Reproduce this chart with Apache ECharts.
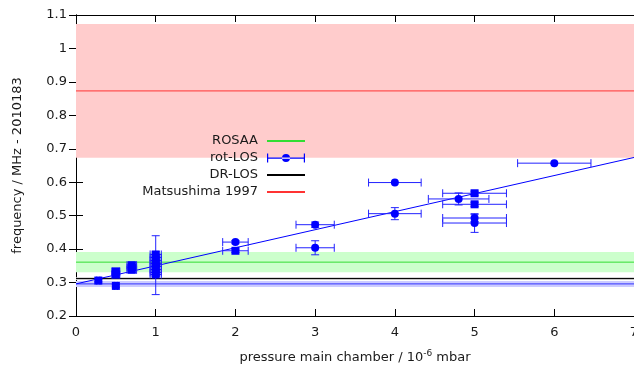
<!DOCTYPE html>
<html>
<head>
<meta charset="utf-8">
<script src="https://cdn.jsdelivr.net/npm/echarts@6/dist/echarts.min.js"></script>
<style>
html, body { margin: 0; padding: 0; background: #fff; }
#chart { width: 634px; height: 366px; }
</style>
</head>
<body>
<div id="chart"></div>
<script>
// rot-LOS measurements: [pressure, frequency, pressure error, frequency error]
const circlePoints = [
	[1, 0.352, 0, 0.088],
	[2, 0.421, 0.16, 0.005],
	[3, 0.473, 0.24, 0.008],
	[3, 0.404, 0.24, 0.021],
	[4, 0.599, 0.33, 0],
	[4, 0.506, 0.33, 0.018],
	[4.8, 0.55, 0.38, 0.018],
	[5, 0.493, 0.4, 0.01],
	[5, 0.478, 0.4, 0.028],
	[6, 0.657, 0.46, 0]
];
const squarePoints = [
	[0.28, 0.306, 0.02, 0.004],
	[0.5, 0.333, 0.05, 0.01],
	[0.5, 0.324, 0.05, 0.01],
	[0.5, 0.29, 0.02, 0.004],
	[0.7, 0.352, 0.06, 0.008],
	[0.7, 0.345, 0.06, 0.008],
	[0.7, 0.338, 0.06, 0.008],
	[1, 0.384, 0.07, 0.008],
	[1, 0.375, 0.07, 0.008],
	[1, 0.366, 0.07, 0.008],
	[1, 0.357, 0.07, 0.008],
	[1, 0.348, 0.07, 0.008],
	[1, 0.339, 0.07, 0.008],
	[1, 0.33, 0.07, 0.008],
	[1, 0.324, 0.07, 0.006],
	[2, 0.395, 0.16, 0.005],
	[5, 0.567, 0.4, 0.006],
	[5, 0.534, 0.4, 0.006]
];
// linear fit through rot-LOS
const fitLine = [[0, 0.296], [7, 0.674]];

// reference values with their uncertainty band
const refNames = ["ROSAA", "DR-LOS", "Matsushima 1997", "fit-offset"];
const refValues = [0.361, 0.312, 0.873, 0.296];
const refErrors = [0.03, 0.004, 0.2, 0.009];
const refColors = ["#33dd33", "#000000", "#ff3333", "#3333ff"];
const refBands = ["#ccffcc", "#cccccc", "#ffcccc", "#ccccff"];

const xTicks = [0, 7, 1];
const yTicks = [0.2, 1.1, 0.1];

const font = "DejaVu Sans";
const textColor = "#1a1a1a";
const blue = "#0000ff";
const lineIcon = "path://M0,0h38v2h-38z";

const refSeries = refNames.map((name, i) => ({
	name: name,
	type: "line",
	symbol: "none",
	silent: true,
	z: 1,
	data: [[xTicks[0], refValues[i]], [xTicks[1], refValues[i]]],
	lineStyle: { color: refColors[i], width: 1 },
	itemStyle: { color: refColors[i] },
	markArea: {
		silent: true,
		itemStyle: { color: refBands[i] },
		data: [[{ yAxis: refValues[i] - refErrors[i] }, { yAxis: refValues[i] + refErrors[i] }]]
	}
}));

function errorBars(params, api) {
	const x = api.value(0), y = api.value(1), dx = api.value(2), dy = api.value(3);
	const cap = 4;
	const style = { stroke: "#2222ff", lineWidth: 1 };
	const children = [];
	if (dx > 0) {
		const l = api.coord([x - dx, y]);
		const r = api.coord([x + dx, y]);
		children.push({ type: "line", shape: { x1: l[0], y1: l[1], x2: r[0], y2: r[1] }, style: style });
		children.push({ type: "line", shape: { x1: l[0], y1: l[1] - cap, x2: l[0], y2: l[1] + cap }, style: style });
		children.push({ type: "line", shape: { x1: r[0], y1: r[1] - cap, x2: r[0], y2: r[1] + cap }, style: style });
	}
	if (dy > 0) {
		const t = api.coord([x, y + dy]);
		const b = api.coord([x, y - dy]);
		children.push({ type: "line", shape: { x1: t[0], y1: t[1], x2: b[0], y2: b[1] }, style: style });
		children.push({ type: "line", shape: { x1: t[0] - cap, y1: t[1], x2: t[0] + cap, y2: t[1] }, style: style });
		children.push({ type: "line", shape: { x1: b[0] - cap, y1: b[1], x2: b[0] + cap, y2: b[1] }, style: style });
	}
	return { type: "group", children: children };
}

const axisCommon = {
	type: "value",
	axisLine: { show: true, lineStyle: { color: "#000", width: 1 } },
	axisTick: { show: true, inside: true, length: 7, lineStyle: { color: "#000" } },
	splitLine: { show: false }
};

const option = {
	animation: false,
	grid: { left: 76, right: 0, top: 15, bottom: 50, outerBoundsMode: "none", containLabel: false },
	legend: {
		orient: "vertical",
		align: "right",
		right: 329,
		top: 134,
		padding: 0,
		itemWidth: 38,
		itemHeight: 9,
		itemGap: 3,
		selectedMode: false,
		textStyle: { fontFamily: font, fontSize: 13, color: textColor, lineHeight: 14, padding: [0, 4, 0, 0] },
		data: [
			{ name: "ROSAA", icon: lineIcon },
			{ name: "rot-LOS", icon: "path://M0,4h38v1.2h-38zM0,0h1.2v9h-1.2zM36.8,0h1.2v9h-1.2zM15,4.6a4,4 0 1,0 8,0a4,4 0 1,0 -8,0z" },
			{ name: "DR-LOS", icon: lineIcon },
			{ name: "Matsushima 1997", icon: lineIcon }
		]
	},
	xAxis: [
		Object.assign({}, axisCommon, {
			min: xTicks[0], max: xTicks[1], interval: xTicks[2],
			position: "bottom",
			axisLabel: { fontFamily: font, fontSize: 13, color: textColor, margin: 10 },
			name: "pressure main chamber / 10{sup|-6} mbar",
			nameLocation: "middle",
			nameGap: 33,
			nameTextStyle: {
				fontFamily: font, fontSize: 13, color: textColor,
				rich: { sup: { fontFamily: font, fontSize: 9, color: textColor, verticalAlign: "top", padding: [0, 0, 8, 0] } }
			}
		}),
		Object.assign({}, axisCommon, {
			min: xTicks[0], max: xTicks[1], interval: xTicks[2],
			position: "top",
			axisLabel: { show: false }
		})
	],
	yAxis: [
		Object.assign({}, axisCommon, {
			min: yTicks[0], max: yTicks[1], interval: yTicks[2],
			position: "left",
			axisLabel: { fontFamily: font, fontSize: 13, color: textColor, margin: 9 },
			name: "frequency / MHz - 2010183",
			nameLocation: "middle",
			nameGap: 52,
			nameTextStyle: { fontFamily: font, fontSize: 13, color: textColor }
		}),
		Object.assign({}, axisCommon, {
			min: yTicks[0], max: yTicks[1], interval: yTicks[2],
			position: "right",
			axisLabel: { show: false }
		})
	],
	series: refSeries.concat([
		{
			name: "fit",
			type: "line",
			symbol: "none",
			silent: true,
			z: 3,
			data: fitLine,
			lineStyle: { color: blue, width: 1 }
		},
		{
			name: "errors",
			type: "custom",
			silent: true,
			z: 4,
			renderItem: errorBars,
			data: circlePoints.concat(squarePoints)
		},
		{
			name: "rot-LOS",
			type: "scatter",
			symbol: "circle",
			symbolSize: 8,
			z: 5,
			itemStyle: { color: blue, opacity: 1 },
			data: circlePoints
		},
		{
			name: "rot-LOS squares",
			type: "scatter",
			symbol: "rect",
			symbolSize: 8,
			z: 5,
			itemStyle: { color: blue, opacity: 1 },
			data: squarePoints
		}
	])
};

const chart = echarts.init(document.getElementById("chart"));
chart.setOption(option);
</script>
</body>
</html>
